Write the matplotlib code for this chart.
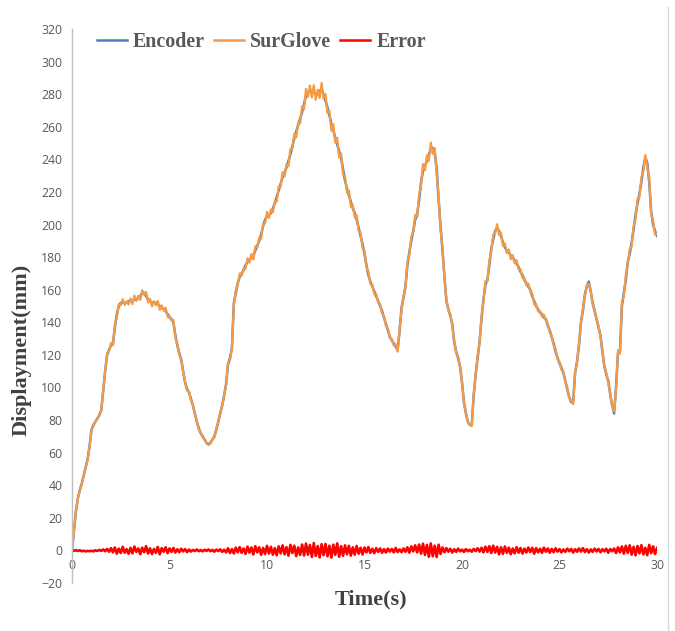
import numpy as np
import matplotlib.pyplot as plt
from matplotlib.lines import Line2D

# time base, one sample every 0.1 s
time_s = np.round(np.arange(0, 301) * 0.1, 1)

# encoder displacement (mm), every 0.1 s
encoder = [
    0, 12, 24, 32, 37, 41, 46, 51, 56, 64,
    74, 77, 79, 81, 83, 86, 98, 110, 120, 123,
    126, 127, 137, 145, 150, 152, 152, 152, 152, 153,
    153, 153, 154, 154, 155, 156, 158, 158, 156, 154,
    153, 152, 152, 152, 151, 150, 149, 148, 147, 145,
    143, 142, 140, 132, 126, 121, 117, 110, 103, 99,
    97, 93, 89, 84, 79, 75, 72, 70, 68, 66,
    65, 66, 68, 70, 74, 79, 84, 89, 95, 102,
    114, 118, 124, 152, 158, 164, 168, 170, 172, 175,
    177, 178, 180, 181, 184, 187, 190, 194, 199, 203,
    205, 206, 207, 210, 213, 217, 221, 225, 229, 232,
    235, 239, 243, 248, 253, 257, 261, 265, 269, 274,
    279, 281, 282, 282, 281, 280, 280, 282, 283, 280,
    276, 272, 267, 262, 258, 253, 249, 245, 241, 234,
    227, 222, 218, 214, 210, 207, 203, 198, 193, 188,
    182, 175, 169, 165, 162, 159, 156, 153, 150, 147,
    143, 139, 135, 131, 129, 127, 125, 123, 135, 149,
    155, 162, 175, 183, 190, 196, 203, 206, 215, 226,
    233, 236, 239, 243, 246, 247, 244, 235, 215, 199,
    184, 168, 153, 148, 144, 139, 128, 122, 118, 113,
    103, 91, 84, 79, 77, 77, 95, 108, 118, 128,
    142, 154, 163, 166, 175, 185, 191, 196, 198, 196,
    193, 189, 186, 184, 183, 181, 180, 178, 176, 174,
    171, 169, 166, 164, 162, 160, 156, 153, 150, 148,
    146, 145, 143, 142, 138, 135, 131, 127, 122, 118,
    115, 112, 109, 104, 99, 94, 91, 91, 109, 116,
    126, 140, 147, 157, 162, 165, 159, 152, 147, 142,
    137, 132, 122, 113, 108, 104, 96, 89, 84, 100,
    121, 122, 150, 158, 166, 177, 182, 189, 197, 206,
    213, 219, 226, 235, 241, 238, 226, 208, 200, 196,
    193,
]

# glove minus encoder (mm)
error = [
    0.0, -0.3, 0.2, -0.4, 0.1, -0.5, -0.2, -0.6, -0.3, -0.5,
    -0.2, -0.6, 0.1, -0.4, 0.3, -0.3, 0.6, -0.5, 0.9, -0.8,
    1.4, -1.2, 1.8, -2.0, 1.1, -1.6, 2.2, -1.4, 0.8, -2.1,
    1.6, -1.8, 2.4, -0.9, 1.2, -2.3, 1.7, -1.1, 2.6, -1.9,
    1.3, -2.2, 0.9, -1.5, 2.1, -2.4, 1.4, -0.8, 1.9, -1.7,
    1.2, -0.9, 1.5, -1.3, 0.7, -1.1, 1.0, -0.6, 0.8, -1.0,
    0.5, -0.7, 0.3, -0.4, 0.6, -0.5, 0.2, -0.6, 0.4, -0.3,
    0.6, -0.5, 0.3, -0.8, 0.5, -0.4, 0.7, -0.9, 0.4, -1.2,
    1.3, -1.6, 0.8, -1.9, 1.7, -1.1, 2.0, -1.5, 1.2, -2.1,
    2.3, -1.4, 1.8, -2.5, 2.6, -1.2, 1.9, -2.7, 1.5, -2.2,
    2.8, -1.9, 2.2, -2.6, 1.4, -3.0, 2.5, -1.8, 3.1, -2.4,
    2.0, -3.2, 3.4, -1.6, 2.9, -3.5, 1.8, -2.8, 3.6, -3.1,
    4.2, -2.6, 3.3, -4.0, 4.5, -3.4, 2.7, -4.3, 3.8, -2.9,
    4.0, -3.6, 2.9, -4.4, 3.5, -2.7, 4.3, -3.9, 2.6, -3.3,
    3.1, -2.4, 2.8, -3.2, 1.9, -2.6, 2.7, -2.0, 1.6, -2.5,
    1.8, -1.2, 2.1, -1.5, 1.0, -1.7, 1.4, -0.9, 1.2, -1.4,
    0.8, -1.3, 1.1, -0.7, 0.9, -1.2, 1.5, -1.0, 0.6, -1.1,
    1.2, -0.8, 1.9, -1.4, 2.5, -0.6, 3.1, -1.2, 3.6, -2.0,
    4.1, -2.8, 3.4, -3.9, 4.3, -3.6, 2.9, -4.1, 3.5, -2.2,
    1.8, -1.1, 1.4, -0.8, 1.0, -1.3, 0.7, -0.9, 1.1, -0.6,
    0.5, -0.9, 0.8, -0.5, 0.4, -0.8, 0.9, -0.4, 1.3, -0.7,
    1.6, -1.2, 2.3, -0.9, 2.6, -1.6, 2.9, -1.3, 2.2, -2.4,
    1.9, -2.1, 2.4, -1.5, 1.7, -2.3, 1.2, -1.8, 2.0, -1.4,
    1.5, -1.9, 1.1, -1.3, 1.8, -1.0, 1.6, -2.0, 1.4, -1.2,
    1.0, -1.5, 1.7, -0.8, 1.2, -1.4, 0.9, -1.1, 1.3, -0.7,
    0.8, -1.2, 0.6, -0.9, 1.1, -0.5, 0.9, -1.3, 0.7, -0.8,
    1.2, -0.7, 1.4, -1.0, 0.8, -1.3, 0.6, -0.9, 1.1, -0.6,
    0.9, -1.1, 0.7, -0.6, 1.0, -1.4, 0.8, -0.5, 1.2, -1.6,
    1.9, -1.2, 2.4, -2.0, 2.8, -1.5, 3.1, -2.6, 2.2, -3.0,
    2.7, -1.8, 3.2, -2.4, 1.6, -2.9, 3.4, -1.7, 2.5, -2.2,
    1.5,
]

# SurGlove reading = encoder + error
surglove = np.array(encoder) + np.array(error)

x_ticks = [0, 5, 10, 15, 20, 25, 30]
y_ticks = list(range(-20, 321, 20))

tick_col = "#595959"
serif = "Liberation Serif"

fig = plt.figure(figsize=(6.75, 6.31), dpi=100)
ax = fig.add_axes([72 / 675, 1 - 583 / 631, 585 / 675, 554 / 631])

ax.plot(time_s, encoder, color="#4f7fc0", lw=1.8, label="Encoder")
ax.plot(time_s, surglove, color="#f59b45", lw=1.6, label="SurGlove")
ax.plot(time_s, error, color="#ff0000", lw=1.9, label="Error")

ax.set_xlim(0, 30)
ax.set_ylim(-20, 320)
ax.set_xticks(x_ticks)
ax.set_yticks(y_ticks)

for s in ["top", "right"]:
    ax.spines[s].set_visible(False)
ax.spines["left"].set_color("#bfbfbf")
ax.spines["left"].set_linewidth(1.0)
ax.spines["bottom"].set_position(("data", 0))
ax.spines["bottom"].set_color("#d9d9d9")
ax.spines["bottom"].set_zorder(0)
ax.tick_params(axis="both", length=0, labelsize=8.8, labelcolor=tick_col)
ax.tick_params(axis="y", pad=7)
ax.tick_params(axis="x", pad=6)
for lab in ax.get_xticklabels() + ax.get_yticklabels():
    lab.set_fontfamily("Open Sans")

fig.text(22 / 675, 1 - 350 / 631, "Displayment(mm)", rotation=90,
         ha="center", va="center", fontsize=16, fontweight="bold",
         family=serif, color="#404040")
fig.text(371 / 675, 1 - 599 / 631, "Time(s)", ha="center", va="center",
         fontsize=16, fontweight="bold", family=serif, color="#404040")

leg = ax.legend(loc="upper left", bbox_to_anchor=(0.043, 0.995), ncol=3,
                frameon=False, borderpad=0, borderaxespad=0,
                handlelength=1.5, handletextpad=0.3, columnspacing=0.45,
                prop={"family": serif, "weight": "bold", "size": 14.4})
for t in leg.get_texts():
    t.set_color("#595959")
for h in leg.get_lines():
    h.set_linewidth(1.8)

# chart border on the right
fig.add_artist(Line2D([668 / 675, 668 / 675], [0, 1 - 7 / 631],
                      transform=fig.transFigure, color="#d9d9d9", lw=1))

fig.savefig("out.png", dpi=100)
